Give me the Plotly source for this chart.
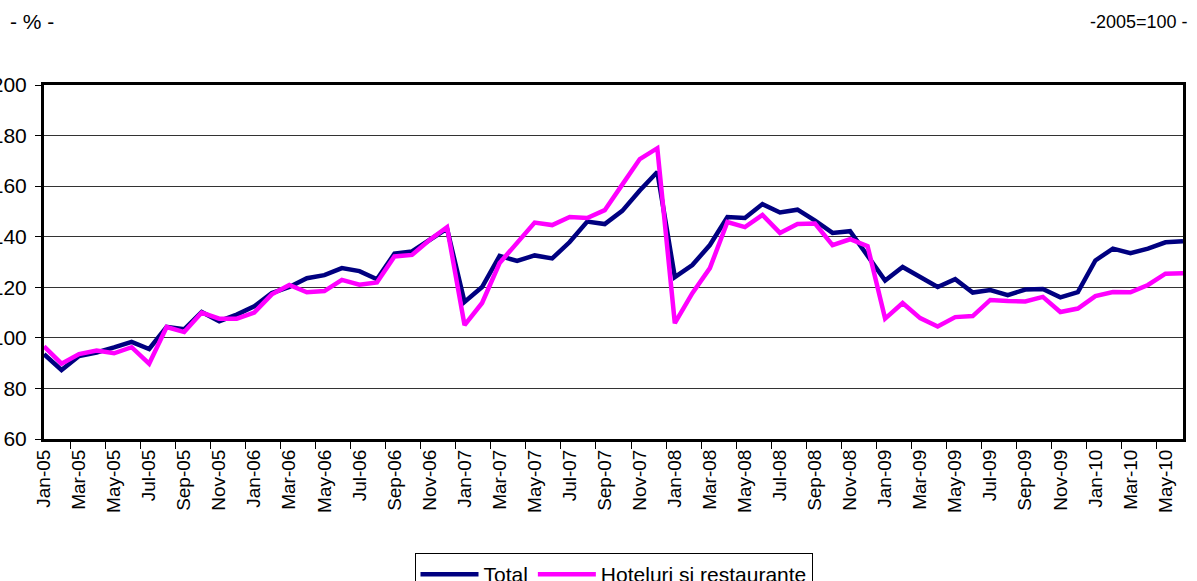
import plotly.graph_objects as go

months = []
for yr in ["05", "06", "07", "08", "09", "10"]:
    for m in ["Jan", "Feb", "Mar", "Apr", "May", "Jun", "Jul", "Aug", "Sep", "Oct", "Nov", "Dec"]:
        months.append(f"{m}-{yr}")
months = months[:66]

total = [93.5, 87.3, 92.8, 94.2, 96.2, 98.4, 95.6, 104.3, 103.4, 110.2, 106.6, 109.2,
         112.5, 117.7, 120.1, 123.6, 124.8, 127.6, 126.4, 123.2, 133.3, 134.2, 138.7, 143.2,
         114.2, 120.1, 132.4, 130.4, 132.6, 131.4, 137.9, 146.0, 145.0, 150.2, 158.3, 165.6,
         124.0, 128.8, 136.7, 147.8, 147.4, 152.9, 149.6, 150.7, 146.4, 141.5, 142.2, 132.5,
         122.7, 128.0, 124.2, 120.1, 123.2, 117.9, 118.9, 116.9, 119.1, 119.3, 116.0, 118.1,
         130.6, 135.3, 133.5, 135.3, 137.8, 138.2]

hotel = [96.6, 89.8, 93.6, 95.0, 93.9, 96.3, 89.8, 104.3, 102.3, 110.0, 107.6, 107.6,
         110.0, 117.2, 120.9, 118.0, 118.5, 122.9, 121.0, 121.9, 132.2, 132.8, 138.7, 143.8,
         105.0, 113.8, 129.6, 137.9, 145.6, 144.6, 147.8, 147.4, 150.5, 160.6, 170.7, 175.0,
         105.8, 117.7, 127.6, 145.8, 143.8, 148.6, 141.5, 145.0, 145.2, 136.7, 139.0, 136.3,
         107.6, 113.8, 107.8, 104.5, 108.2, 108.6, 115.0, 114.6, 114.4, 116.2, 110.2, 111.6,
         116.5, 118.1, 118.0, 120.9, 125.4, 125.6]

y_ticks = [60, 80, 100, 120, 140, 160, 180, 200]

FONT = "Arial, Liberation Sans, sans-serif"

fig = go.Figure()
fig.add_trace(go.Scatter(x=months, y=total, mode="lines", name="Total",
                         line=dict(color="#000080", width=4.5)))
fig.add_trace(go.Scatter(x=months, y=hotel, mode="lines", name="Hoteluri si restaurante",
                         line=dict(color="#FF00FF", width=4.5)))

fig.update_layout(
    width=1197, height=581,
    margin=dict(l=44, r=14, t=85, b=142, autoexpand=False),
    paper_bgcolor="white", plot_bgcolor="white",
    font=dict(family=FONT, color="black"),
    showlegend=True,
    legend=dict(orientation="h", x=0.5, xanchor="center", y=-0.322, yanchor="top",
                bordercolor="black", borderwidth=1, font=dict(size=21),
                itemwidth=58, tracegroupgap=0),
    annotations=[
        dict(text="- % -", xref="paper", yref="paper", x=-0.032, y=1.178, xanchor="left",
             yanchor="middle", showarrow=False, font=dict(size=21, family=FONT)),
        dict(text="-2005=100 -", x=1.006, xref="paper", yref="paper", xanchor="right",
             y=1.178, yanchor="middle", showarrow=False, font=dict(size=18, family=FONT)),
    ],
)

fig.update_xaxes(type="category", tickmode="linear", tick0=0, dtick=2,
                 tickson="boundaries", ticks="outside", ticklen=7, tickcolor="black",
                 tickwidth=1, tickangle=-90, tickfont=dict(size=19, family=FONT),
                 showgrid=False, showline=True, linecolor="black", linewidth=3,
                 mirror=True, zeroline=False, automargin=False)
fig.update_yaxes(range=[60, 200], tickvals=y_ticks, ticks="outside", ticklen=6,
                 tickcolor="black", tickwidth=1, tickfont=dict(size=21, family=FONT),
                 ticklabelstandoff=4,
                 showgrid=True, gridcolor="#333333", gridwidth=1,
                 showline=True, linecolor="black", linewidth=3, mirror=True,
                 zeroline=False, automargin=False)

fig.write_html("out.html", config={"displayModeBar": False},
               post_script="document.body.style.margin='0px';document.body.style.padding='0px';")
